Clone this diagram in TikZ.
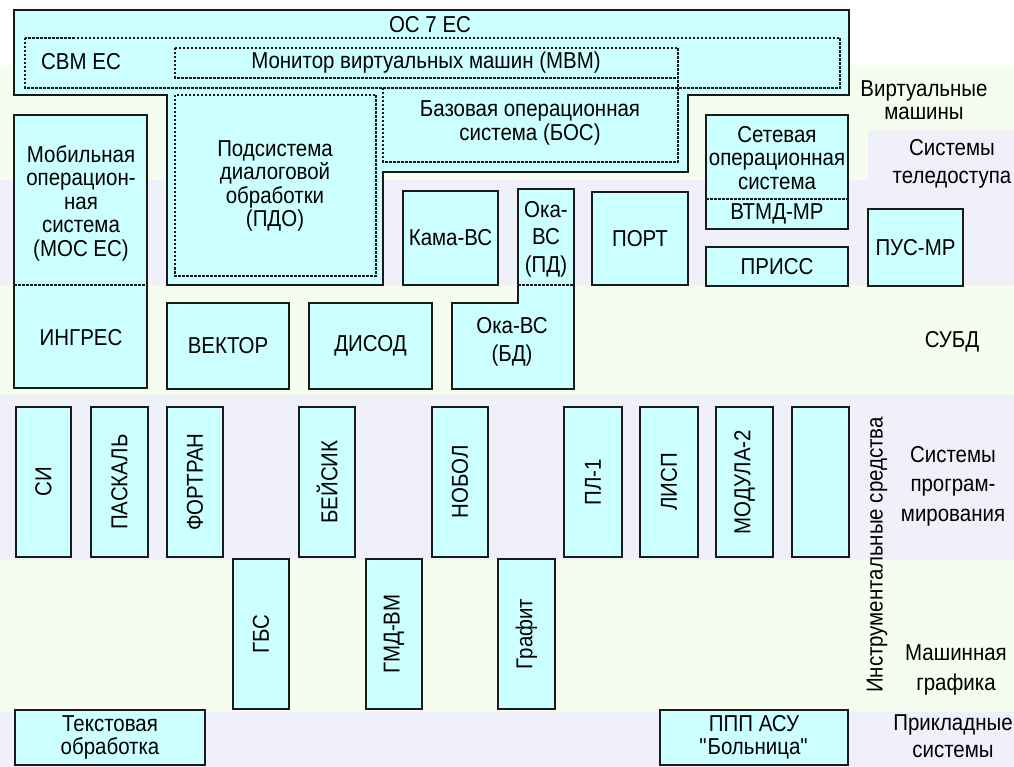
\documentclass[tikz,border=0pt]{standalone}
\usepackage{fontspec}
\setmainfont{Liberation Sans}[FakeStretch=0.89]
\usetikzlibrary{fit}
\definecolor{boxc}{HTML}{CCFFFF}
\definecolor{bandg}{HTML}{F6FDEF}
\definecolor{bandl}{HTML}{F0F0FA}
\definecolor{edge}{HTML}{1A1A1A}
\newcommand\straightq{\XeTeXglyph\XeTeXcharglyph34\relax}
\tikzset{
 box/.style={draw=edge, fill=boxc, line width=1.6pt, inner sep=0pt, outer sep=0pt},
 txt/.style={font=\fontsize{23}{23.5}\selectfont, align=center, inner sep=0pt, text=black},
 dotline/.style={draw=edge, line width=1.2pt, dash pattern=on 2.5pt off 1.5pt},
 outline/.style={draw=edge, fill=boxc, line width=1.6pt, line join=miter},
}
\newcommand\BX[4]{\node[box,fit={(#2)(#3)}] (#1) {}; \node[txt] (#1t) at (#1.center) {#4};}
\newcommand\VBX[4]{\node[box,fit={(#2)(#3)}] (#1) {}; \node[txt,rotate=90] (#1t) at (#1.center) {#4};}
\begin{document}
\begin{tikzpicture}[x=1pt,y=-1pt]
\useasboundingbox (0,0) rectangle (1014,767);
\fill[white] (0,0) rectangle (1014,767);
\fill[bandg] (0,65) rectangle (1014,180);
\fill[bandl] (868,130) rectangle (1014,180);
\fill[bandl] (0,180) rectangle (1014,285);
\fill[bandg] (0,285) rectangle (1014,395);
\fill[bandl] (0,395) rectangle (1014,560);
\fill[bandg] (0,560) rectangle (1014,712);
\fill[bandl] (0,712) rectangle (1014,767);
% OS 7 EC shape
\draw[outline] (14,10) -- (849,10) -- (849,95) -- (688,95) -- (688,172) -- (383,172) -- (383,285) -- (167,285) -- (167,95) -- (14,95) -- cycle;
\draw[dotline] (25,38) rectangle (840,88);
\draw[dotline] (175,48) rectangle (678,78);
\draw[dotline] (175,95) rectangle (376,276);
\draw[dotline] (383,88) -- (383,162) -- (678,162) -- (678,78);
\node[txt] (os) at (430,25) {ОС 7 ЕС};
\node[txt] (svm) at (81,62) {СВМ ЕС};
\node[txt] (mvm) at (426,63) {Монитор виртуальных машин (МВМ)};
\node[txt] (bos) at (530,123) {Базовая операционная\\система (БОС)};
\node[txt] (pdo) at (275,186) {Подсистема\\диалоговой\\обработки\\(ПДО)};
% MOS
\node[box,fit={(14,115)(147,388)}] (mos) {};
\draw[dotline] (14,285) -- (147,285);
\node[txt] (most) at (81,203) {Мобильная\\операцион-\\ная\\система\\(МОС ЕС)};
\node[txt] (ingres) at (81,338) {ИНГРЕС};
% Kama, Oka
\BX{kama}{403,191}{498,285}{Кама-ВС}
\draw[outline] (518,189) -- (574,189) -- (574,389) -- (452,389) -- (452,303) -- (518,303) -- cycle;
\draw[dotline] (518,285) -- (574,285);
\node[txt] (okapd) at (546,239) {Ока-\\[4pt]ВС\\[4pt](ПД)};
\node[txt] (okabd) at (512,342) {Ока-ВС\\[4pt](БД)};
\BX{port}{592,192}{688,285}{ПОРТ}
% network OS
\node[box,fit={(706,115)(848,229)}] (set) {};
\draw[dotline] (706,199) -- (848,199);
\node[txt] (sett) at (777,158) {Сетевая\\операционная\\система};
\node[txt] (vtmd) at (777,214) {ВТМД-МР};
\BX{priss}{706,247}{848,286}{ПРИСС}
\BX{pus}{868,209}{963,286}{ПУС-МР}
\BX{vektor}{167,303}{289,389}{ВЕКТОР}
\BX{disod}{309,303}{432,389}{ДИСОД}
% programming
\VBX{si}{16,407}{71,557}{СИ}
\VBX{pascal}{91,407}{148,557}{ПАСКАЛЬ}
\VBX{fortran}{167,407}{223,557}{ФОРТРАН}
\VBX{basic}{299,407}{355,557}{БЕЙСИК}
\VBX{nobol}{432,407}{488,557}{НОБОЛ}
\VBX{pl}{564,407}{622,557}{ПЛ-1}
\VBX{lisp}{640,407}{698,557}{ЛИСП}
\VBX{modula}{716,407}{773,557}{МОДУЛА-2}
\node[box,fit={(792,407)(849,557)}] (blank) {};
% graphics
\VBX{gbs}{233,559}{289,709}{ГБС}
\VBX{gmd}{366,559}{422,709}{ГМД-ВМ}
\VBX{grafit}{498,559}{555,709}{Графит}
% applied
\BX{text}{15,710}{205,765}{Текстовая\\обработка}
\BX{ppp}{660,710}{848,765}{ППП АСУ\\\straightq Больница\straightq}
% right labels
\node[txt] (lvm) at (924,100) {Виртуальные\\машины};
\node[txt] (ltd) at (952,164) {Системы\\[4pt]теледоступа};
\node[txt] (lsubd) at (952,342) {СУБД};
\node[txt] (lprog) at (953,486) {Системы\\[6pt]програм-\\[6pt]мирования};
\node[txt] (lgr) at (956,670) {Машинная\\[7pt]графика};
\node[txt] (lapp) at (953,736) {Прикладные\\[4pt]системы};
\node[txt,rotate=90] (linstr) at (877,555) {Инструментальные средства};
\end{tikzpicture}
\end{document}
